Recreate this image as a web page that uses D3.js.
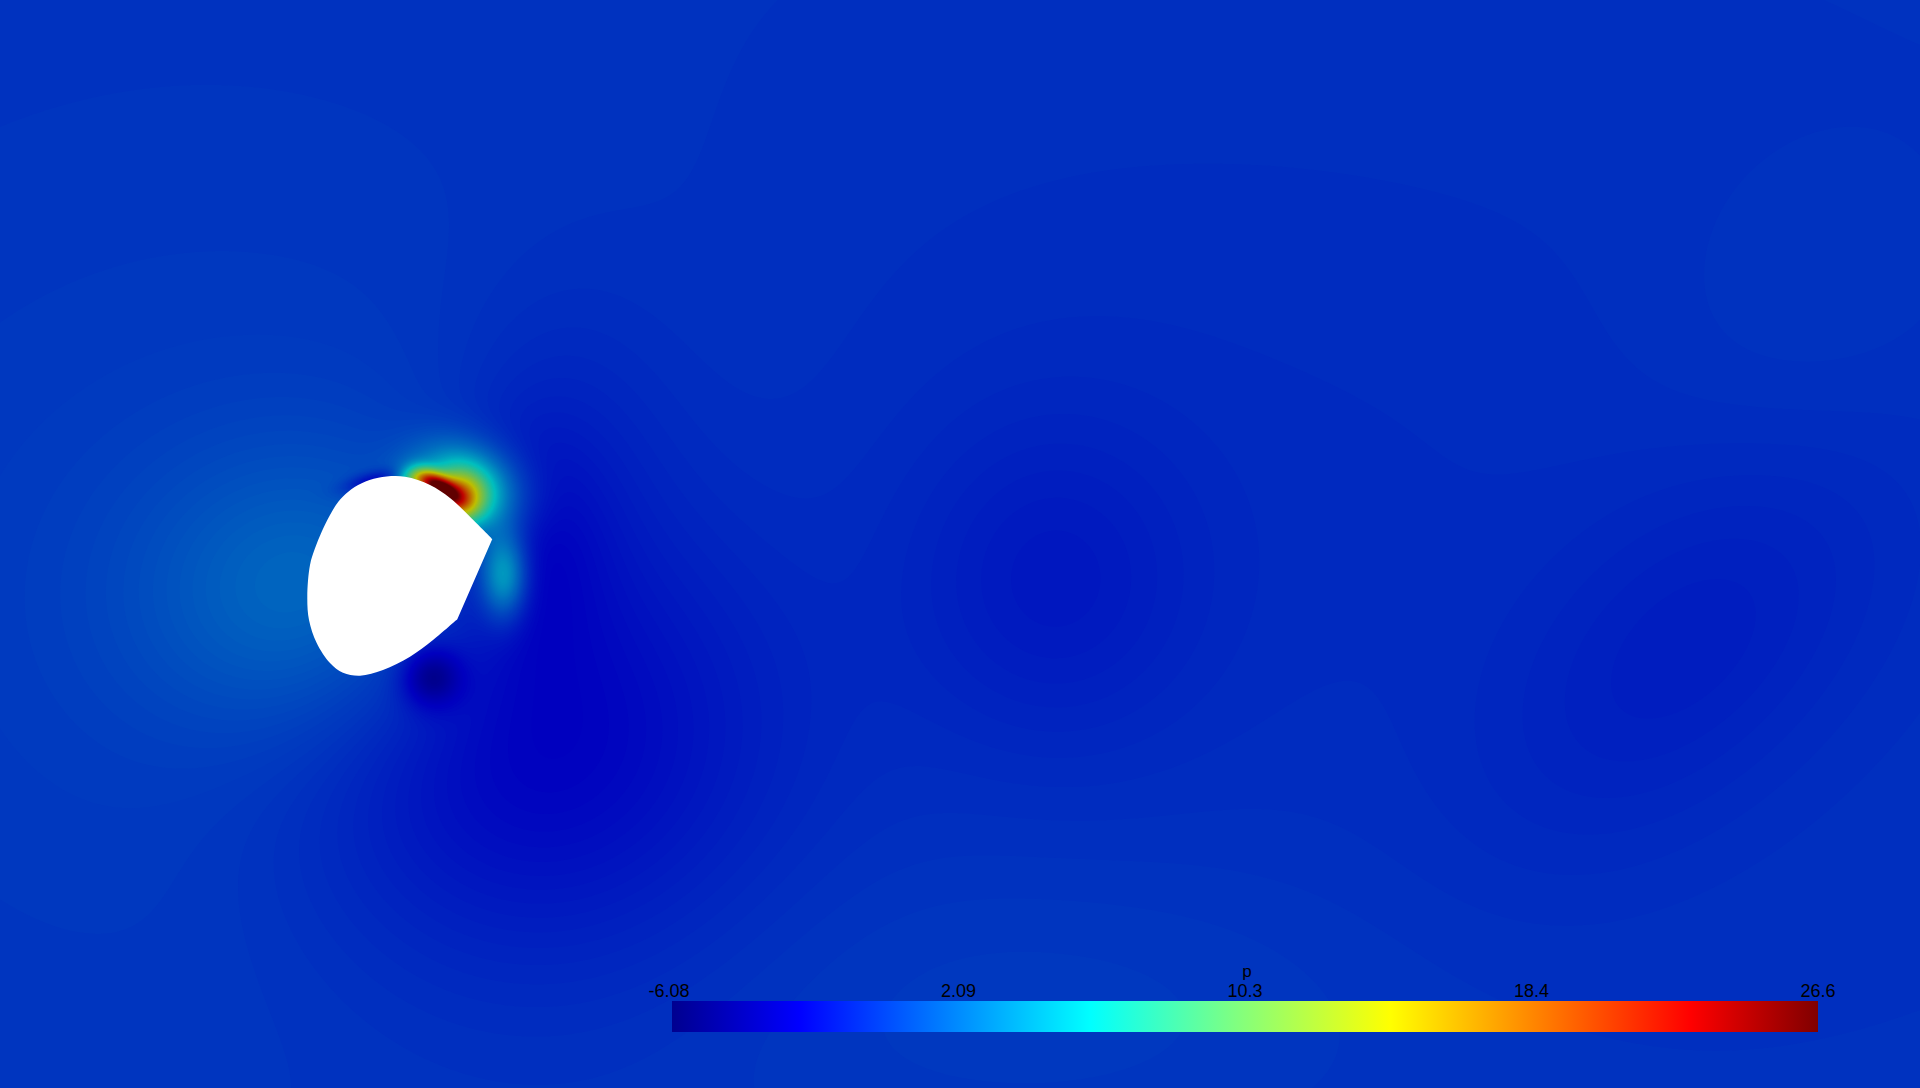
<!DOCTYPE html>
<html>
<head>
<meta charset="utf-8">
<script src="https://cdn.jsdelivr.net/npm/d3@7"></script>
<style>
html,body{margin:0;padding:0;overflow:hidden;background:#ffffff;}
svg{display:block;}
</style>
</head>
<body>
<svg id="chart" width="1920" height="1088"></svg>
<script>
// ---------------- data ----------------
const fieldName = "p";
const pMin = -6.08, pMax = 26.6;
const tickValues = [-6.08, 2.09, 10.26, 18.43, 26.6];
const tableValues = 256;
const shading = 0.75;
const jetStops  = [0, 0.1111, 0.3651, 0.4921, 0.6270, 0.8889, 1];
const jetColors = ["#00008f", "#0000ff", "#00ffff", "#80ff80", "#ffff00", "#ff0000", "#800000"];

// far-field pressure
const fieldBase = -0.3;
// pressure features (physical units, body diameter ~1)
//                 upstr  upstr2 wakeLo aboveR right  minSp  topLo  ridge  orange halo   tongue cyan   vort1  vort2  wake   hiTR   hiBot
const featX     = [-0.40, -0.50,  0.65,  0.80,  0.65,  0.16, -0.14,  0.19,  0.30,  0.33,  0.075, 0.52,   3.26,  6.45,  3.50,  7.00,  3.25];
const featY     = [-0.10, -0.125,-0.80,  0.575, 0.125,-0.51,  0.47,  0.44,  0.385, 0.435, 0.48,  0.00,  -0.035,-0.375, 0.275, 1.225,-2.125];
const featSX    = [ 0.60,  1.75,  0.78,  0.40,  0.25,  0.10,  0.10,  0.08,  0.085, 0.18,  0.06,  0.08,   0.50,  0.85,  3.00,  0.55,  1.25];
const featSY    = [ 0.50,  1.50,  0.75,  0.60,  0.40,  0.10,  0.03,  0.04,  0.085, 0.14,  0.035, 0.15,   0.55,  0.475, 1.50,  0.55,  0.55];
const featAngle = [ 0,     0,     0,     0,     0,     0,    15,   -33,     0,   -20,   -10,     0,      0,    45,     0,     0,     0];
const featAmp   = [ 2.3,   0.6,  -2.4,  -0.6,  -1.2,  -3.8,  -3.0,  20,    12,     8,     5,     6,     -0.85, -0.7,  -0.35,  0.2,   0.35];

// body outline (arc from upper corner round the front to lower corner; closed by the flat cut)
const bodyX = [0.4615, 0.35, 0.25, 0.15, 0.025, -0.1085, -0.1915, -0.2585, -0.3085, -0.35, -0.3915, -0.425, -0.45, -0.4635, -0.455, -0.4165, -0.35, -0.285, -0.2, -0.085, 0.05, 0.165, 0.2865];
const bodyY = [0.18, 0.2915, 0.385, 0.45, 0.4915, 0.4865, 0.4585, 0.4165, 0.3665, 0.3, 0.2165, 0.1335, 0.05, -0.1085, -0.225, -0.34, -0.44, -0.4885, -0.5035, -0.475, -0.4085, -0.325, -0.2215];

// ---------------- layout ----------------
const W = 1920, H = 1088;
const x = d3.scaleLinear().domain([-2, 7.6]).range([0, W]);
const y = d3.scaleLinear().domain([-2.565, 2.875]).range([H, 0]);
const bar = {x0: 672, x1: 1818, y0: 1001, y1: 1032};

const svg = d3.select("#chart");

const jet = d3.scaleLinear().domain(jetStops).range(jetColors).interpolate(d3.interpolateRgb).clamp(true);
const bandStep = (pMax - pMin) / tableValues;
function bandColor(k) {
  const c = d3.rgb(jet(k / (tableValues - 1)));
  return d3.rgb(c.r * shading, c.g * shading, c.b * shading).formatHex();
}

const feats = featX.map((fx, i) => {
  const a = featAngle[i] * Math.PI / 180;
  return {x: fx, y: featY[i], sx: featSX[i], sy: featSY[i], c: Math.cos(a), s: Math.sin(a), A: featAmp[i]};
});
function pAt(X, Y) {
  let v = fieldBase;
  for (const f of feats) {
    const dx = X - f.x, dy = Y - f.y;
    const u = dx * f.c + dy * f.s, w = -dx * f.s + dy * f.c;
    v += f.A * Math.exp(-(u * u / (2 * f.sx * f.sx) + w * w / (2 * f.sy * f.sy)));
  }
  return v;
}

function sampleGrid(ox, oy, step, nx, ny) {
  const vals = new Float64Array(nx * ny);
  for (let j = 0; j < ny; j++) {
    const Y = y.invert(oy + j * step);
    for (let i = 0; i < nx; i++) vals[j * nx + i] = pAt(x.invert(ox + i * step), Y);
  }
  return vals;
}

const thresholds = d3.range(1, tableValues).map(k => pMin + k * bandStep);
const splitValue = 2.5;
const kSplit = thresholds.findIndex(t => t >= splitValue) + 1; // band index

const gField = svg.append("g").attr("class", "field");
gField.append("rect").attr("x", 0).attr("y", 0).attr("width", W).attr("height", H).attr("fill", bandColor(0));

function drawBands(vals, nx, ny, ox, oy, step, kFrom, kTo) {
  const ths = thresholds.slice(kFrom - 1, kTo);
  const ext = d3.extent(vals);
  const use = ths.filter(t => t <= ext[1] + 1e-9);
  if (!use.length) return;
  const conts = d3.contours().size([nx, ny]).smooth(true).thresholds(use)(vals);
  const path = d3.geoPath(d3.geoIdentity().scale(step).translate([ox - step / 2, oy - step / 2]));
  gField.append("g").selectAll("path")
    .data(conts.filter(c => c.coordinates.length))
    .join("path")
    .attr("d", path)
    .attr("fill", c => bandColor(Math.round((c.value - pMin) / bandStep)));
}

// coarse grid for the whole view, low bands
{
  const step = 4, nx = W / step + 1, ny = H / step + 1;
  const vals = sampleGrid(0, 0, step, nx, ny);
  drawBands(vals, nx, ny, 0, 0, step, 1, kSplit - 1);
}
// fine grid around the body, high bands
{
  const ox = 270, oy = 390, step = 1, nx = 341, ny = 341;
  const vals = sampleGrid(ox, oy, step, nx, ny);
  drawBands(vals, nx, ny, ox, oy, step, kSplit, tableValues - 1);
}

// body
const bodyPts = bodyX.map((bx, i) => [bx, bodyY[i]]);
const bodyLine = d3.line().x(d => x(d[0])).y(d => y(d[1])).curve(d3.curveCatmullRom.alpha(0.5));
svg.append("path").attr("d", bodyLine(bodyPts) + "Z").attr("fill", "#ffffff");

// ---------------- colour legend ----------------
const defs = svg.append("defs");
const grad = defs.append("linearGradient").attr("id", "jetGrad").attr("x1", "0%").attr("x2", "100%").attr("y1", "0%").attr("y2", "0%");
grad.selectAll("stop").data(jetStops).join("stop")
  .attr("offset", d => (d * 100) + "%")
  .attr("stop-color", (d, i) => jetColors[i]);

const cb = d3.scaleLinear().domain([pMin, pMax]).range([bar.x0, bar.x1]);
const gLeg = svg.append("g").attr("class", "legend");
gLeg.append("rect").attr("x", bar.x0).attr("y", bar.y0).attr("width", bar.x1 - bar.x0).attr("height", bar.y1 - bar.y0).attr("fill", "url(#jetGrad)");
const fmt = d3.formatLocale({decimal: ".", thousands: ",", grouping: [3], currency: ["", ""], minus: "-"}).format(".3");
gLeg.selectAll("text.tick").data(tickValues).join("text")
  .attr("class", "tick")
  .attr("x", (d, i) => cb(d) - (i === 0 ? 3 : 0))
  .attr("y", 997)
  .attr("text-anchor", "middle")
  .attr("font-family", "Liberation Sans, Arial, sans-serif")
  .attr("font-size", 18)
  .attr("fill", "#000")
  .text(d => fmt(d));
gLeg.append("text")
  .attr("x", (bar.x0 + bar.x1) / 2 + 2)
  .attr("y", 977)
  .attr("text-anchor", "middle")
  .attr("font-family", "Liberation Sans, Arial, sans-serif")
  .attr("font-size", 17)
  .attr("fill", "#000")
  .text(fieldName);
</script>
</body>
</html>
